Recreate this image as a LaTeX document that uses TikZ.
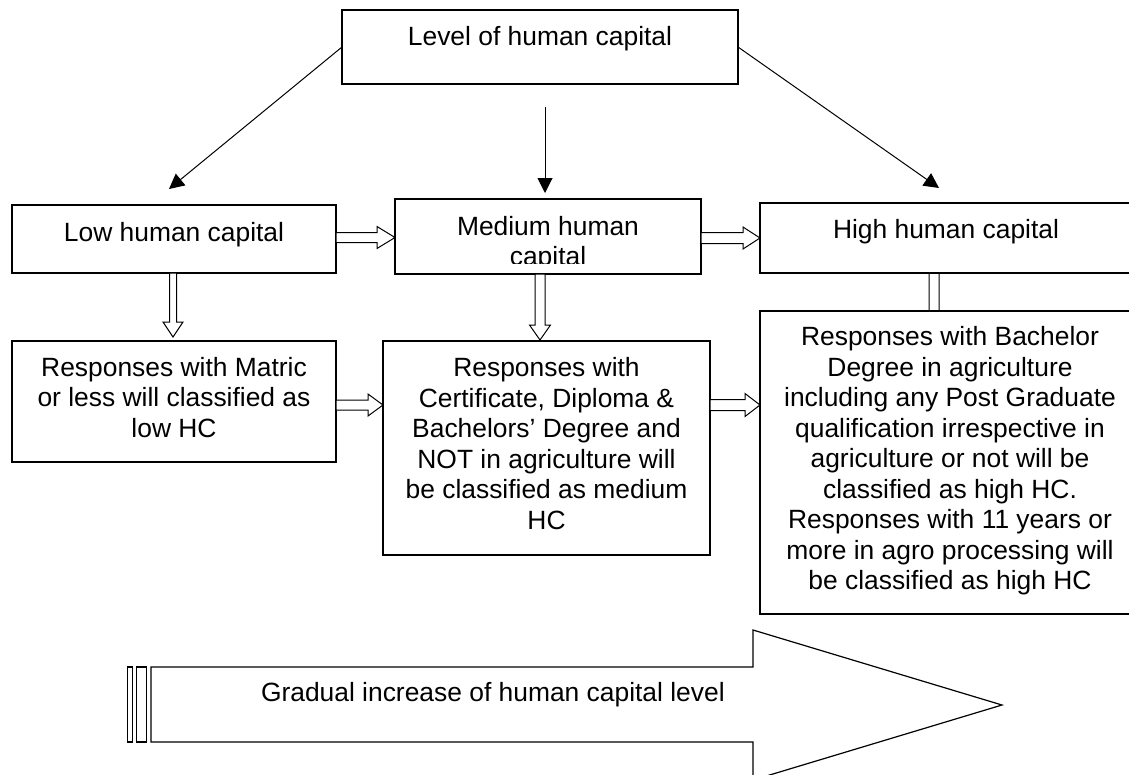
\documentclass[tikz,border=0pt]{standalone}
\usepackage{fontspec}
\setmainfont{Liberation Sans}
\usetikzlibrary{arrows.meta,calc,backgrounds}
\newcommand{\firstln}{\rule{0pt}{20pt}}
\newcommand{\lastln}{\rule[-10pt]{0pt}{10pt}}
% horizontal open block arrow: from anchor, to anchor, y centre, shaft half, head half, head length
\newcommand{\harrow}[6]{%
  \path (#1 |- 0,#3) coordinate (ha) (#2 |- 0,#3) coordinate (hb);
  \draw[blk] ($(ha)+(0,-#4)$) -- ($(hb)+(-#6,-#4)$) -- ($(hb)+(-#6,-#5)$) -- (hb)
    -- ($(hb)+(-#6,#5)$) -- ($(hb)+(-#6,#4)$) -- ($(ha)+(0,#4)$) -- cycle;}
% vertical open block arrow: from anchor, to anchor, x centre, shaft half, head half, head-base offset, tip offset
\newcommand{\varrow}[7]{%
  \path (#3,0 |- #1) coordinate (va) (#3,0 |- #2) coordinate (vb);
  \draw[blk] ($(va)+(-#4,0)$) -- ($(vb)+(-#4,#6)$) -- ($(vb)+(-#5,#6)$) -- ($(vb)+(0,#7)$)
    -- ($(vb)+(#5,#6)$) -- ($(vb)+(#4,#6)$) -- ($(va)+(#4,0)$) -- cycle;}
\begin{document}
\begin{tikzpicture}[x=1pt,y=-1pt,
  every node/.style={font=\fontsize{26.4pt}{30.5pt}\selectfont, inner sep=0pt, outer sep=0pt},
  box/.style={draw, line width=1.4pt, fill=white, align=center},
  arr/.style={line width=1pt, -{Triangle[length=15pt,width=15pt]}},
  blk/.style={draw, line width=1pt, fill=white, line join=miter},
  bigarrow/.style={draw, line width=1.2pt, fill=white}]
\useasboundingbox (0,0) rectangle (1129,774);

% top level
\node[box, minimum width=396pt, minimum height=74pt, text height=20pt, text depth=22.8pt] (top) at (540,47) {Level of human capital};

% second row
\node[box, minimum width=324pt, minimum height=68pt, text height=20pt, text depth=16pt] (low) at (174,239) {Low human capital};
\node[box, minimum width=306pt, minimum height=75pt] (med) at (548,236.5) {};
\begin{scope}
  \clip (med.north west) rectangle ($(med.south east)+(0,-11)$);
  \node[align=center, anchor=north] (medtext) at (548,215) {\firstln Medium human\\capital};
\end{scope}
\node[box, minimum width=372pt, minimum height=70pt, text height=20pt, text depth=19pt] (high) at (946,238) {High human capital};

% third row
\node[box, minimum width=324pt, minimum height=121pt] (lowr) at (174,401.5)
  {\firstln Responses with Matric\\or less will classified as\\low HC\lastln};
\node[box, minimum width=327pt, minimum height=214pt] (medr) at (546.5,448)
  {\firstln Responses with\\Certificate, Diploma \&\\Bachelors’ Degree and\\NOT in agriculture will\\be classified as medium\\HC\lastln};
\node[box, minimum width=380pt, minimum height=303pt] (highr) at (950,462.5)
  {\firstln Responses with Bachelor\\Degree in agriculture\\including any Post Graduate\\qualification irrespective in\\agriculture or not will be\\classified as high HC.\\Responses with 11 years or\\more in agro processing will\\be classified as high HC\lastln};

% line arrows from the top box
\coordinate (ltip) at (169,189);
\coordinate (mstart) at (545,107);
\coordinate (mtip) at (545,193);
\coordinate (rtip) at (939,188);
\draw[arr] (top.west) -- (ltip);
\draw[arr] (mstart) -- (mtip);
\draw[arr] (top.east) -- (rtip);

% open block arrows
\harrow{low.east}{med.west}{237.5}{5}{11}{18}
\harrow{med.east}{high.west}{238}{5.5}{11}{17}
\harrow{lowr.east}{medr.west}{405}{5}{11}{15}
\harrow{medr.east}{highr.west}{405}{5.5}{11.5}{15}
\varrow{low.south}{lowr.north}{173}{3.5}{10}{-19}{-4}
\varrow{med.south}{medr.north}{540}{5}{10.5}{-16}{-1}
\begin{pgfonlayer}{background}
\varrow{high.south}{highr.north}{934}{5}{11}{0}{15}
\end{pgfonlayer}

% big arrow at the bottom
\draw[line width=1.2pt, fill=white] (127.7,667) rectangle (132.3,742);
\draw[line width=1.2pt, fill=white] (136.7,667) rectangle (146.7,742);
\draw[bigarrow] (151,667) -- (753,667) -- (753,630) -- (1002,705) -- (753,780) -- (753,742) -- (151,742) -- cycle;
\node[anchor=base west] (grad) at (261,701.7) {Gradual increase of human capital level};
\end{tikzpicture}
\end{document}
